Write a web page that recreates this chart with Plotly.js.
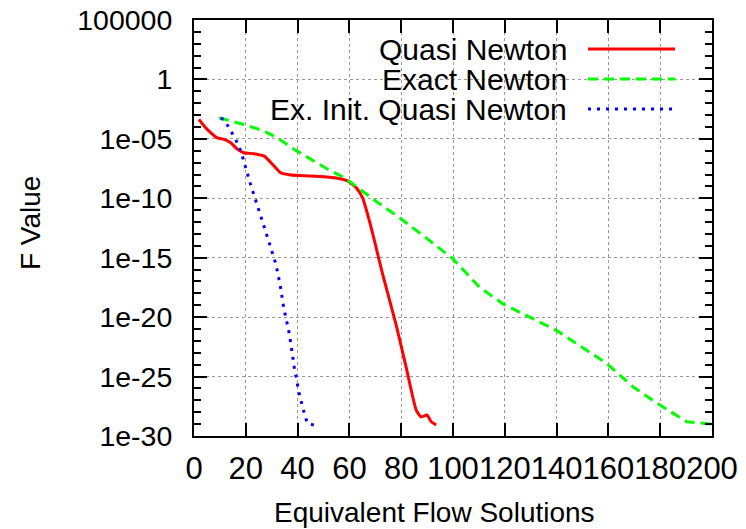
<!DOCTYPE html>
<html>
<head>
<meta charset="utf-8">
<script src="https://cdn.plot.ly/plotly-3.0.1.min.js"></script>
<style>html,body{margin:0;padding:0;background:#fff;}#chart{width:746px;height:529px;}</style>
</head>
<body>
<div id="chart"></div>
<script>
// ---- data ----
const quasiX = [1.9,3.9,6.5,9.0,11.6,14.2,16.8,19.3,23.2,27.1,30.9,33.5,37.4,45.1,54.2,59.3,62.6,65.1,67.7,70.3,72.8,78,81.9,85.8,87.7,89.9,91.6,93.5];
const quasiY = [4.3e-4,1.2e-4,3.2e-5,1.2e-5,8.9e-6,4.7e-6,1.3e-6,6.8e-7,5.6e-7,3.5e-7,5.2e-8,1.4e-8,9.1e-9,7.6e-9,5.4e-9,2.9e-9,7.9e-10,1.1e-10,1.3e-12,7.4e-15,4.4e-17,2.5e-21,6.3e-25,1.5e-28,4e-29,5.8e-29,1.6e-29,8.3e-30];

const exactX = [9.7,19.3,27.1,32.2,38.7,45.1,51.6,56.8,60.6,70,80,90,100,110.2,119.3,139.9,159.3,169.6,179.9,190.2,200];
const exactY = [5.9e-4,1.6e-4,4.5e-5,1.2e-5,1.3e-6,1.9e-7,2.8e-8,7.6e-9,2.1e-9,6.3e-11,1.8e-12,4e-14,7.9e-16,3.3e-18,1.3e-19,7.8e-22,1.3e-24,1.3e-26,4e-28,1.6e-29,1e-29];

const exInitX = [10.3,11.6,13.5,16.1,18.1,20,21.9,23.9,26.4,29,31.6,33.3,34.6,36.8,38.7,40.6,42.6,43.8,47.5];
const exInitY = [5.1e-4,4.3e-4,8.5e-5,8.9e-6,9.3e-7,2.8e-8,1.3e-9,6e-11,9.1e-13,1.9e-14,3e-16,4.6e-18,6.9e-20,4.1e-22,6.5e-25,3.8e-27,7.9e-29,1.1e-29,7.2e-30];

const seriesNames = ["Quasi Newton","Exact Newton","Ex. Init. Quasi Newton"];
const yTickVals = [1e5,1,1e-5,1e-10,1e-15,1e-20,1e-25,1e-30];
const yTickText = ["100000","1","1e-05","1e-10","1e-15","1e-20","1e-25","1e-30"];
const yMinorVals = [1e5,1e4,1e3,1e2,1e1,1,1e-1,1e-2,1e-3,1e-4,1e-5,1e-6,1e-7,1e-8,1e-9,1e-10,1e-11,1e-12,1e-13,1e-14,1e-15,1e-16,1e-17,1e-18,1e-19,1e-20,1e-21,1e-22,1e-23,1e-24,1e-25,1e-26,1e-27,1e-28,1e-29,1e-30];
const xTickVals = [0,20,40,60,80,100,120,140,160,180,200];

// ---- styling ----
const colors = ["#ff0000","#00ff00","#0000ff"];
const dashes = ["solid","10px,6px","3px,6px"];
const FONT = "Liberation Sans, Arial, Helvetica, sans-serif";

const traces = [
  {x: quasiX, y: quasiY, name: seriesNames[0], mode: "lines", line: {color: colors[0], width: 3, dash: dashes[0], shape: "spline", smoothing: 0.5}},
  {x: exactX, y: exactY, name: seriesNames[1], mode: "lines", line: {color: colors[1], width: 3, dash: dashes[1]}},
  {x: exInitX, y: exInitY, name: seriesNames[2], mode: "lines", line: {color: colors[2], width: 3, dash: dashes[2]}}
];

// legend drawn gnuplot-style (text right-aligned, sample on the right)
const legRows = [0.930, 0.858, 0.786];
const annotations = seriesNames.map((n, i) => ({
  xref: "paper", yref: "paper", x: 0.724, y: legRows[i], xanchor: "right", yanchor: "middle",
  text: n, showarrow: false, font: {family: FONT, size: 30, color: "#000"}
}));
annotations.push({xref: "paper", yref: "paper", x: -0.3166, y: 0.512, textangle: -90, xanchor: "center", yanchor: "middle",
  text: "F Value", showarrow: false, font: {family: FONT, size: 28, color: "#000"}});
annotations.push({xref: "paper", yref: "paper", x: 0.465, y: -0.185, xanchor: "center", yanchor: "middle",
  text: "Equivalent Flow Solutions", showarrow: false, font: {family: FONT, size: 28, color: "#000"}});

const shapes = seriesNames.map((n, i) => ({
  type: "line", xref: "paper", yref: "paper", x0: 0.7606, x1: 0.9286, y0: legRows[i], y1: legRows[i],
  line: {color: colors[i], width: 3, dash: dashes[i]}
}));

const layout = {
  width: 746, height: 529,
  margin: {l: 194, r: 34, t: 20, b: 93, pad: 0},
  paper_bgcolor: "#fff", plot_bgcolor: "#fff",
  showlegend: false,
  font: {family: FONT, size: 28, color: "#000"},
  xaxis: {
    range: [0, 200], tickmode: "array", tickvals: xTickVals, tickangle: 0,
    ticks: "inside", ticklen: 13, tickwidth: 2, tickcolor: "#000",
    showline: true, linecolor: "#000", linewidth: 2, mirror: "ticks",
    showgrid: true, gridcolor: "#999", gridwidth: 1, griddash: "dot",
    zeroline: false, ticklabelstandoff: 4, automargin: false,
    tickfont: {family: FONT, size: 31, color: "#000"}
  },
  yaxis: {
    type: "log", range: [-30, 5], tickmode: "array", tickvals: yTickVals, ticktext: yTickText, tickangle: 0,
    ticks: "inside", ticklen: 13, tickwidth: 2, tickcolor: "#000",
    minor: {tickmode: "array", tickvals: yMinorVals, ticks: "inside", ticklen: 7, tickwidth: 2, tickcolor: "#000", showgrid: false},
    showline: true, linecolor: "#000", linewidth: 2, mirror: "ticks",
    showgrid: true, gridcolor: "#999", gridwidth: 1, griddash: "dot",
    zeroline: false, ticklabelstandoff: 14, automargin: false,
    tickfont: {family: FONT, size: 28.5, color: "#000"}
  },
  annotations: annotations,
  shapes: shapes
};

Plotly.newPlot("chart", traces, layout, {staticPlot: true, displayModeBar: false});
</script>
</body>
</html>
